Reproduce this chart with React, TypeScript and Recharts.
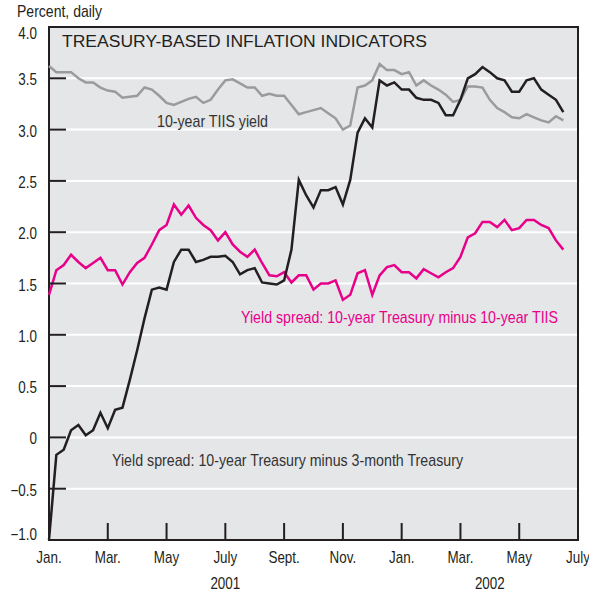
import React from 'react';
import { LineChart, Line, XAxis, YAxis, CartesianGrid, ReferenceArea } from 'recharts';

// months since Jan. 2001, sampled weekly-ish
const months = Array.from({ length: 71 }, (_, i) => i * 0.25);

const tiisYield = [
  3.62, 3.56, 3.56, 3.56, 3.5, 3.46, 3.46, 3.41, 3.38, 3.37,
  3.31, 3.32, 3.33, 3.41, 3.39, 3.33, 3.26, 3.24, 3.27, 3.3,
  3.32, 3.26, 3.29, 3.39, 3.48, 3.49, 3.45, 3.41, 3.41, 3.33,
  3.35, 3.33, 3.33, 3.24, 3.15, 3.17, 3.19, 3.21, 3.16, 3.11,
  3.0, 3.04, 3.41, 3.43, 3.48, 3.64, 3.58, 3.58, 3.54, 3.56,
  3.43, 3.48, 3.43, 3.39, 3.34, 3.27, 3.29, 3.42, 3.42, 3.41,
  3.29, 3.21, 3.17, 3.12, 3.11, 3.15, 3.12, 3.09, 3.07, 3.13,
  3.09,
];

const spreadTiis = [
  1.39, 1.63, 1.68, 1.78, 1.71, 1.65, 1.7, 1.75, 1.63, 1.63,
  1.49, 1.61, 1.7, 1.75, 1.88, 2.02, 2.07, 2.27, 2.17, 2.26,
  2.14, 2.07, 2.02, 1.92, 2.0, 1.88, 1.81, 1.76, 1.83, 1.7,
  1.58, 1.57, 1.61, 1.51, 1.58, 1.58, 1.44, 1.5, 1.5, 1.53,
  1.34, 1.39, 1.6, 1.63, 1.39, 1.58, 1.66, 1.68, 1.61, 1.61,
  1.55, 1.64, 1.6, 1.56, 1.61, 1.65, 1.76, 1.95, 1.99, 2.1,
  2.1, 2.05, 2.12, 2.02, 2.04, 2.12, 2.12, 2.07, 2.04, 1.92,
  1.83,
];

const spread3m = [
  -1.0, -0.17, -0.12, 0.07, 0.12, 0.02, 0.07, 0.24, 0.09, 0.27,
  0.29, 0.56, 0.85, 1.16, 1.44, 1.46, 1.44, 1.71, 1.83, 1.83,
  1.71, 1.73, 1.76, 1.76, 1.77, 1.71, 1.59, 1.63, 1.65, 1.51,
  1.5, 1.49, 1.53, 1.83, 2.51, 2.36, 2.24, 2.41, 2.41, 2.44,
  2.27, 2.51, 2.97, 3.11, 3.02, 3.48, 3.43, 3.46, 3.39, 3.39,
  3.31, 3.29, 3.29, 3.26, 3.14, 3.14, 3.29, 3.5, 3.54, 3.61,
  3.56, 3.5, 3.48, 3.37, 3.37, 3.48, 3.5, 3.39, 3.34, 3.29,
  3.17,
];

const monthTicks = [0, 2, 4, 6, 8, 10, 12, 14, 16, 18];
const monthLabels = ['Jan.', 'Mar.', 'May', 'July', 'Sept.', 'Nov.', 'Jan.', 'Mar.', 'May', 'July'];
const yearTicks = [6, 15];
const yearLabels = ['2001', '2002'];
const valueTicks = [4, 3.5, 3, 2.5, 2, 1.5, 1, 0.5, 0, -0.5, -1];
const valueLabels = ['4.0', '3.5', '3.0', '2.5', '2.0', '1.5', '1.0', '0.5', '0', '\u22120.5', '\u22121.0'];

const rows = months.map((m, i) => ({
  m,
  tiis: tiisYield[i],
  spreadTiis: spreadTiis[i],
  spread3m: spread3m[i],
}));

const FONT = "'Liberation Sans', Arial, sans-serif";
const INK = '#231f20';
const PINK = '#e8008a';
const SQUEEZE = 0.84;

// narrow text: regular sans squeezed horizontally, like a condensed face
const Narrow = ({ x, y, anchor, children }: any) => (
  <g transform={`translate(${x},${y}) scale(${SQUEEZE},1)`}>
    <text x={0} y={0} textAnchor={anchor} fontSize={16} fill={INK} fontFamily={FONT}>
      {children}
    </text>
  </g>
);

const XTick = (props: any) => {
  const { x, y, payload } = props;
  const i = monthTicks.indexOf(payload.value);
  const edge = payload.value === 0 || payload.value === 18;
  return (
    <g>
      {!edge && <line x1={x} x2={x} y1={y} y2={y - 17} stroke={INK} strokeWidth={2} />}
      <Narrow x={x} y={y + 23} anchor="middle">{monthLabels[i]}</Narrow>
    </g>
  );
};

const YearTick = (props: any) => {
  const { x, y, payload } = props;
  const i = yearTicks.indexOf(payload.value);
  return <Narrow x={x} y={y + 48} anchor="middle">{yearLabels[i]}</Narrow>;
};

const YTick = (props: any) => {
  const { x, y, payload } = props;
  const i = valueTicks.indexOf(payload.value);
  let dy = 7;
  if (payload.value === 4) dy = 12;
  if (payload.value === -1) dy = 0;
  return (
    <g>
      <line x1={x} x2={x + 17} y1={y} y2={y} stroke={INK} strokeWidth={2} />
      <Narrow x={x - 12} y={y + dy} anchor="end">{valueLabels[i]}</Narrow>
    </g>
  );
};

// free-standing labels, squeezed and fitted to the width they have in the original
const Note = ({ x, y, w, size = 16, color = INK, children }: any) => (
  <g transform={`translate(${x},${y}) scale(${SQUEEZE},1)`}>
    <text x={0} y={0} fontSize={size} fill={color} fontFamily={FONT} textLength={w / SQUEEZE} lengthAdjust="spacingAndGlyphs">
      {children}
    </text>
  </g>
);

export default function App() {
  return (
    <div style={{ position: 'absolute', left: 0, top: 0, width: 589, height: 596, background: '#fff' }}>
      <LineChart width={589} height={596} data={rows} margin={{ top: 27, right: 11, bottom: 54, left: 48 }}>
        <CartesianGrid vertical={false} stroke="#ffffff" strokeWidth={2} fill="#e5e6e8" fillOpacity={1} />
        <XAxis
          dataKey="m"
          type="number"
          domain={[0, 18]}
          ticks={monthTicks}
          interval={0}
          height={1}
          tickSize={0}
          tickMargin={0}
          axisLine={false}
          tickLine={false}
          tick={<XTick />}
        />
        <XAxis
          xAxisId="year"
          dataKey="m"
          type="number"
          domain={[0, 18]}
          ticks={yearTicks}
          interval={0}
          height={1}
          tickSize={0}
          tickMargin={0}
          axisLine={false}
          tickLine={false}
          tick={<YearTick />}
        />
        <YAxis
          type="number"
          domain={[-1, 4]}
          ticks={valueTicks}
          interval={0}
          width={1}
          tickSize={0}
          tickMargin={0}
          axisLine={false}
          tickLine={false}
          tick={<YTick />}
        />
        <Line dataKey="tiis" stroke="#9b9b9b" strokeWidth={2.5} dot={false} isAnimationActive={false} type="linear" />
        <Line dataKey="spreadTiis" stroke={PINK} strokeWidth={2.5} dot={false} isAnimationActive={false} type="linear" />
        <Line dataKey="spread3m" stroke={INK} strokeWidth={2.5} dot={false} isAnimationActive={false} type="linear" />
        <ReferenceArea x1={0} x2={18} y1={-1} y2={4} fill="none" stroke={INK} strokeWidth={2} />
      </LineChart>
      <svg width={589} height={596} style={{ position: 'absolute', left: 0, top: 0, pointerEvents: 'none' }}>
        <Note x={17} y={17} w={85}>Percent, daily</Note>
        <Note x={62} y={47} w={365} size={17}>TREASURY-BASED INFLATION INDICATORS</Note>
        <Note x={157} y={127} w={111} color="#333">10-year TIIS yield</Note>
        <Note x={241} y={323} w={317} color={PINK}>Yield spread: 10-year Treasury minus 10-year TIIS</Note>
        <Note x={112} y={466} w={351} color="#333">Yield spread: 10-year Treasury minus 3-month Treasury</Note>
      </svg>
    </div>
  );
}
